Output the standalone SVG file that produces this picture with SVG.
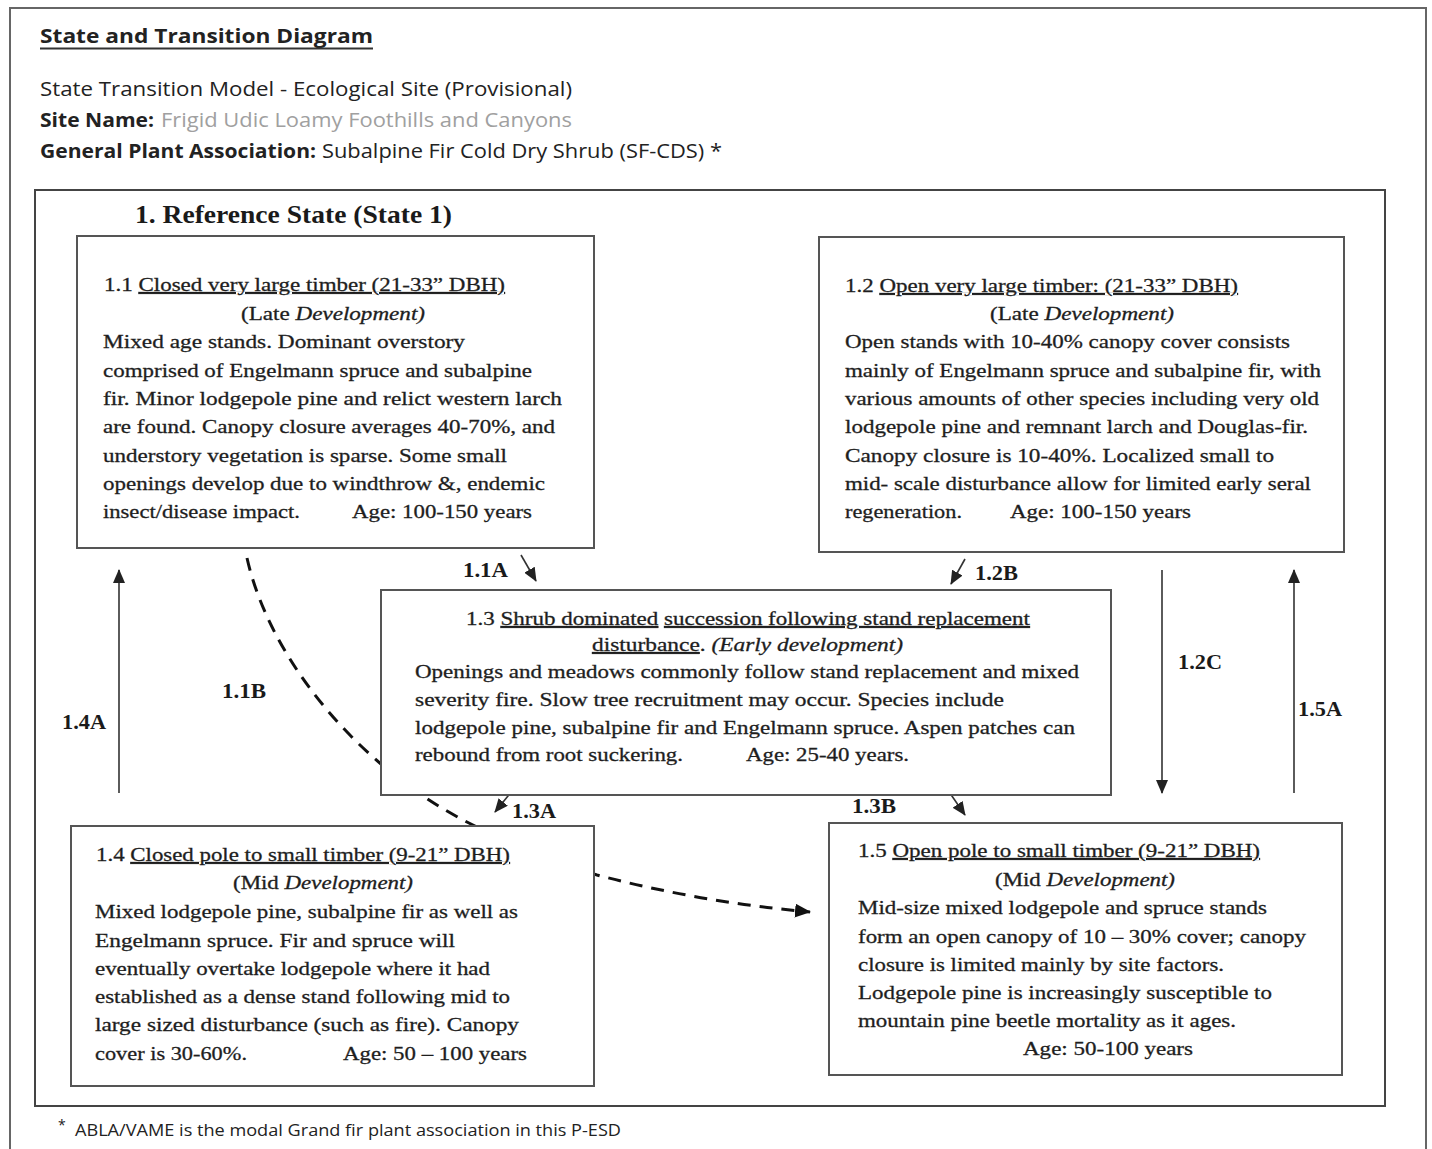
<svg xmlns="http://www.w3.org/2000/svg" width="1432" height="1149" viewBox="0 0 1432 1149">
<style>
.t{font-family:"Liberation Serif","Times New Roman",serif;font-size:19.5px;fill:#1e1e1e;stroke:#1e1e1e;stroke-width:0.3}
.i{font-style:italic}
.u{text-decoration:underline}
.lbl{font-family:"Liberation Serif","Times New Roman",serif;font-size:20px;font-weight:bold;fill:#1a1a1a}
.box{fill:#fff;stroke:#555;stroke-width:2}
.hs{font-family:"Open Sans","Noto Sans",sans-serif;font-size:20px;fill:#222}
.b{font-weight:bold}
.solid{fill:none;stroke:#333;stroke-width:1.6}
.dash{fill:none;stroke:#111;stroke-width:3;stroke-dasharray:13 9}
</style>
<defs>
<marker id="ah" markerUnits="userSpaceOnUse" markerWidth="14" markerHeight="12" refX="13" refY="6" orient="auto"><path d="M0,0 L14,6 L0,12 Z" fill="#222"/></marker>
<marker id="ahd" markerUnits="userSpaceOnUse" markerWidth="16" markerHeight="14" refX="15" refY="7" orient="auto"><path d="M0,0 L16,7 L0,14 Z" fill="#111"/></marker>
</defs>
<rect width="1432" height="1149" fill="#fff"/>
<path d="M10,1149 V8 H1426 V1149" fill="none" stroke="#666" stroke-width="2"/>
<g id="header">
<text class="hs b" x="40" y="43" textLength="333" lengthAdjust="spacingAndGlyphs">State and Transition Diagram</text>
<line x1="40" y1="48.5" x2="373" y2="48.5" stroke="#333" stroke-width="2"/>
<text class="hs" x="40" y="96" textLength="532" lengthAdjust="spacingAndGlyphs">State Transition Model - Ecological Site (Provisional)</text>
<text class="hs b" x="40" y="127" textLength="114" lengthAdjust="spacingAndGlyphs">Site Name:</text>
<text class="hs" x="161" y="127" textLength="411" lengthAdjust="spacingAndGlyphs" style="fill:#a0a0a0">Frigid Udic Loamy Foothills and Canyons</text>
<text class="hs b" x="40" y="158" textLength="276" lengthAdjust="spacingAndGlyphs">General Plant Association:</text>
<text class="hs" x="322" y="158" textLength="400" lengthAdjust="spacingAndGlyphs">Subalpine Fir Cold Dry Shrub (SF-CDS) *</text>
</g>
<rect x="35" y="190" width="1350" height="916" fill="none" stroke="#444" stroke-width="2"/>
<text class="lbl" x="135" y="223" style="font-size:25px" textLength="317" lengthAdjust="spacingAndGlyphs">1. Reference State (State 1)</text>
<g id="connectors">
<path class="dash" d="M247,558 C270,660 360,770 475,826 C520,848 555,862 597,875 Q700,902 810,912" marker-end="url(#ahd)"/>
<line class="solid" x1="521" y1="555" x2="536" y2="581" marker-end="url(#ah)"/>
<line class="solid" x1="965" y1="559" x2="951" y2="584" marker-end="url(#ah)"/>
<line class="solid" x1="517" y1="785" x2="495" y2="812" marker-end="url(#ah)"/>
<line class="solid" x1="943" y1="783" x2="965" y2="815" marker-end="url(#ah)"/>
<line class="solid" x1="119" y1="793" x2="119" y2="570" marker-end="url(#ah)"/>
<line class="solid" x1="1162" y1="570" x2="1162" y2="793" marker-end="url(#ah)"/>
<line class="solid" x1="1294" y1="793" x2="1294" y2="570" marker-end="url(#ah)"/>
<text class="lbl" x="463" y="577" textLength="45" lengthAdjust="spacingAndGlyphs">1.1A</text>
<text class="lbl" x="975" y="580" textLength="43" lengthAdjust="spacingAndGlyphs">1.2B</text>
<text class="lbl" x="222" y="698" textLength="44" lengthAdjust="spacingAndGlyphs">1.1B</text>
<text class="lbl" x="62" y="729" textLength="44" lengthAdjust="spacingAndGlyphs">1.4A</text>
<text class="lbl" x="512" y="818" textLength="44" lengthAdjust="spacingAndGlyphs">1.3A</text>
<text class="lbl" x="852" y="813" textLength="44" lengthAdjust="spacingAndGlyphs">1.3B</text>
<text class="lbl" x="1178" y="669" textLength="44" lengthAdjust="spacingAndGlyphs">1.2C</text>
<text class="lbl" x="1298" y="716" textLength="44" lengthAdjust="spacingAndGlyphs">1.5A</text>
</g>
<g id="s11">
<rect class="box" x="77" y="236" width="517" height="312"/>
<text class="t" x="104" y="291" textLength="401" lengthAdjust="spacingAndGlyphs">1.1 <tspan class="u">Closed very large timber (21-33” DBH)</tspan></text>
<text class="t" x="241" y="320" textLength="184" lengthAdjust="spacingAndGlyphs">(Late <tspan class="i">Development)</tspan></text>
<text class="t" x="103" y="348" textLength="362" lengthAdjust="spacingAndGlyphs">Mixed age stands.  Dominant overstory</text>
<text class="t" x="103" y="377" textLength="429" lengthAdjust="spacingAndGlyphs">comprised of Engelmann spruce and subalpine</text>
<text class="t" x="103" y="405" textLength="459" lengthAdjust="spacingAndGlyphs">fir.  Minor lodgepole pine and relict western larch</text>
<text class="t" x="103" y="433" textLength="452" lengthAdjust="spacingAndGlyphs">are found. Canopy closure averages 40-70%, and</text>
<text class="t" x="103" y="462" textLength="404" lengthAdjust="spacingAndGlyphs">understory vegetation is sparse. Some small</text>
<text class="t" x="103" y="490" textLength="442" lengthAdjust="spacingAndGlyphs">openings develop due to windthrow &amp;, endemic</text>
<text class="t" x="103" y="518" textLength="197" lengthAdjust="spacingAndGlyphs">insect/disease impact.</text>
<text class="t" x="352" y="518" textLength="180" lengthAdjust="spacingAndGlyphs">Age: 100-150 years</text>
</g>
<g id="s12">
<rect class="box" x="819" y="237" width="525" height="315"/>
<text class="t" x="845" y="292" textLength="393" lengthAdjust="spacingAndGlyphs">1.2 <tspan class="u">Open very large timber: (21-33” DBH)</tspan></text>
<text class="t" x="990" y="320" textLength="184" lengthAdjust="spacingAndGlyphs">(Late <tspan class="i">Development)</tspan></text>
<text class="t" x="845" y="348" textLength="445" lengthAdjust="spacingAndGlyphs">Open stands with 10-40% canopy cover consists</text>
<text class="t" x="845" y="377" textLength="476" lengthAdjust="spacingAndGlyphs">mainly of Engelmann spruce and subalpine fir, with</text>
<text class="t" x="845" y="405" textLength="474" lengthAdjust="spacingAndGlyphs">various amounts of other species including very old</text>
<text class="t" x="845" y="433" textLength="463" lengthAdjust="spacingAndGlyphs">lodgepole pine and remnant larch and Douglas-fir.</text>
<text class="t" x="845" y="462" textLength="429" lengthAdjust="spacingAndGlyphs">Canopy closure is 10-40%.  Localized small to</text>
<text class="t" x="845" y="490" textLength="466" lengthAdjust="spacingAndGlyphs">mid- scale disturbance allow for limited early seral</text>
<text class="t" x="845" y="518" textLength="117" lengthAdjust="spacingAndGlyphs">regeneration.</text>
<text class="t" x="1010" y="518" textLength="181" lengthAdjust="spacingAndGlyphs">Age: 100-150 years</text>
</g>
<g id="s13">
<rect class="box" x="381" y="590" width="730" height="205"/>
<text class="t" x="466" y="625" textLength="564" lengthAdjust="spacingAndGlyphs">1.3 <tspan class="u">Shrub dominated</tspan> <tspan class="u">succession following stand replacement</tspan></text>
<text class="t" x="592" y="651" textLength="311" lengthAdjust="spacingAndGlyphs"><tspan class="u">disturbance</tspan>.  <tspan class="i">(Early development)</tspan></text>
<text class="t" x="415" y="678" textLength="664" lengthAdjust="spacingAndGlyphs">Openings and meadows commonly follow stand replacement and mixed</text>
<text class="t" x="415" y="706" textLength="589" lengthAdjust="spacingAndGlyphs">severity fire.  Slow tree recruitment may occur.  Species include</text>
<text class="t" x="415" y="734" textLength="660" lengthAdjust="spacingAndGlyphs">lodgepole pine, subalpine fir and Engelmann spruce. Aspen patches can</text>
<text class="t" x="415" y="761" textLength="268" lengthAdjust="spacingAndGlyphs">rebound from root suckering.</text>
<text class="t" x="746" y="761" textLength="163" lengthAdjust="spacingAndGlyphs">Age: 25-40 years.</text>
</g>
<g id="s14">
<rect class="box" x="71" y="826" width="523" height="260"/>
<text class="t" x="96" y="861" textLength="414" lengthAdjust="spacingAndGlyphs">1.4 <tspan class="u">Closed pole to small timber (9-21” DBH)</tspan></text>
<text class="t" x="233" y="889" textLength="180" lengthAdjust="spacingAndGlyphs">(Mid <tspan class="i">Development)</tspan></text>
<text class="t" x="95" y="918" textLength="423" lengthAdjust="spacingAndGlyphs">Mixed lodgepole pine, subalpine fir as well as</text>
<text class="t" x="95" y="947" textLength="360" lengthAdjust="spacingAndGlyphs">Engelmann spruce.  Fir and spruce will</text>
<text class="t" x="95" y="975" textLength="395" lengthAdjust="spacingAndGlyphs">eventually overtake lodgepole where it had</text>
<text class="t" x="95" y="1003" textLength="415" lengthAdjust="spacingAndGlyphs">established as a dense stand following mid to</text>
<text class="t" x="95" y="1031" textLength="424" lengthAdjust="spacingAndGlyphs">large sized disturbance (such as fire).  Canopy</text>
<text class="t" x="95" y="1060" textLength="152" lengthAdjust="spacingAndGlyphs">cover is 30-60%.</text>
<text class="t" x="343" y="1060" textLength="184" lengthAdjust="spacingAndGlyphs">Age: 50 – 100 years</text>
</g>
<g id="s15">
<rect class="box" x="829" y="823" width="513" height="252"/>
<text class="t" x="858" y="857" textLength="402" lengthAdjust="spacingAndGlyphs">1.5 <tspan class="u">Open pole to small timber (9-21” DBH)</tspan></text>
<text class="t" x="995" y="886" textLength="180" lengthAdjust="spacingAndGlyphs">(Mid <tspan class="i">Development)</tspan></text>
<text class="t" x="858" y="914" textLength="409" lengthAdjust="spacingAndGlyphs">Mid-size mixed lodgepole and spruce stands</text>
<text class="t" x="858" y="943" textLength="448" lengthAdjust="spacingAndGlyphs">form an open canopy of 10 – 30% cover; canopy</text>
<text class="t" x="858" y="971" textLength="366" lengthAdjust="spacingAndGlyphs">closure is limited mainly by site factors.</text>
<text class="t" x="858" y="999" textLength="414" lengthAdjust="spacingAndGlyphs">Lodgepole pine is increasingly susceptible to</text>
<text class="t" x="858" y="1027" textLength="378" lengthAdjust="spacingAndGlyphs">mountain pine beetle mortality as it ages.</text>
<text class="t" x="1023" y="1055" textLength="170" lengthAdjust="spacingAndGlyphs">Age: 50-100 years</text>
</g>
<g id="footnote">
<text class="hs" x="58" y="1130" style="font-size:14px">*</text>
<text class="hs" x="75" y="1136" style="font-size:16px" textLength="546" lengthAdjust="spacingAndGlyphs">ABLA/VAME is the modal Grand fir plant association in this P-ESD</text>
</g>
</svg>
